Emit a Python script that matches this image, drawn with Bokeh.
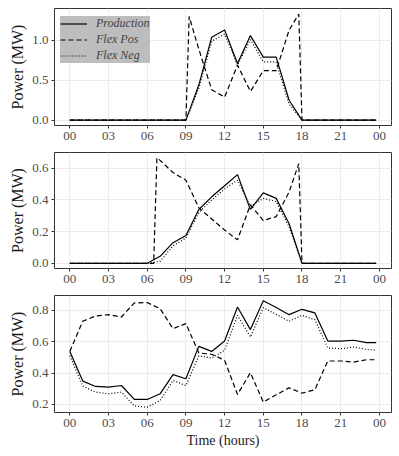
from bokeh.plotting import figure
from bokeh.layouts import column
from bokeh.models import FixedTicker, Range1d
from bokeh.embed import file_html
from bokeh.resources import INLINE

# ---------------- data ----------------
hours = [0, 1, 2, 3, 4, 5, 6, 7, 8, 9, 10, 11, 12, 13, 14, 15, 16, 17, 18, 19, 20, 21, 22, 23, 23.75]

# Panel 1
p1_prod = [0, 0, 0, 0, 0, 0, 0, 0, 0, 0, 0.44, 1.04, 1.13, 0.71, 1.06, 0.79, 0.79, 0.25, 0,
           0, 0, 0, 0, 0, 0]
p1_neg = [0, 0, 0, 0, 0, 0, 0, 0, 0, 0, 0.40, 0.99, 1.08, 0.69, 1.01, 0.73, 0.73, 0.20, 0,
          0, 0, 0, 0, 0, 0]
p1_pos_hours = [0, 1, 2, 3, 4, 5, 6, 7, 8, 9, 9.25, 10, 11, 12, 13, 14, 15, 16, 17, 17.75, 18,
                19, 20, 21, 22, 23, 23.75]
p1_pos = [0, 0, 0, 0, 0, 0, 0, 0, 0, 0, 1.30, 0.89, 0.38, 0.29, 0.69, 0.36, 0.62, 0.62, 1.13, 1.33, 0,
          0, 0, 0, 0, 0, 0]

# Panel 2
p2_prod = [0, 0, 0, 0, 0, 0, 0, 0.044, 0.13, 0.175, 0.34, 0.42, 0.49, 0.56, 0.34, 0.445, 0.41, 0.25, 0,
           0, 0, 0, 0, 0, 0]
p2_neg = [0, 0, 0, 0, 0, 0, 0, 0.012, 0.11, 0.16, 0.32, 0.40, 0.47, 0.525, 0.36, 0.41, 0.39, 0.23, 0,
          0, 0, 0, 0, 0, 0]
p2_pos_hours = [0, 1, 2, 3, 4, 5, 6, 6.5, 6.75, 7, 8, 9, 10, 11, 12, 13, 14, 15, 16, 17, 17.75, 18,
                19, 20, 21, 22, 23, 23.75]
p2_pos = [0, 0, 0, 0, 0, 0, 0, 0, 0.667, 0.65, 0.573, 0.525, 0.35, 0.28, 0.21, 0.148, 0.37, 0.27, 0.295,
          0.45, 0.63, 0, 0, 0, 0, 0, 0, 0]

# Panel 3
p3_prod = [0.538, 0.349, 0.315, 0.311, 0.321, 0.232, 0.232, 0.268, 0.39, 0.364, 0.57, 0.538, 0.604,
           0.821, 0.677, 0.86, 0.817, 0.772, 0.806, 0.783, 0.604, 0.604, 0.609, 0.594, 0.594]
p3_neg = [0.51, 0.317, 0.279, 0.268, 0.279, 0.19, 0.183, 0.225, 0.353, 0.32, 0.51, 0.496, 0.545,
          0.768, 0.63, 0.817, 0.774, 0.73, 0.768, 0.74, 0.56, 0.555, 0.566, 0.551, 0.545]
p3_pos = [0.538, 0.73, 0.764, 0.772, 0.757, 0.847, 0.849, 0.81, 0.683, 0.715, 0.528, 0.52, 0.481,
          0.264, 0.402, 0.215, 0.262, 0.306, 0.272, 0.294, 0.477, 0.477, 0.47, 0.485, 0.485]

x_ticks = [0, 3, 6, 9, 12, 15, 18, 21, 24]
x_tick_labels = ["00", "03", "06", "09", "12", "15", "18", "21", "00"]

labels = ["Production", "Flex Pos", "Flex Neg"]

FONT = "Liberation Serif"


def make_fig(height, yr, yticks, border_top, border_bottom, xlabel=None):
    p = figure(width=399, height=height, x_range=Range1d(-1.19, 24.94), y_range=Range1d(*yr),
               output_backend="svg", toolbar_location=None,
               min_border_left=54, min_border_right=8, min_border_top=border_top,
               min_border_bottom=border_bottom)
    p.outline_line_color = "#333333"
    p.outline_line_width = 1
    p.background_fill_color = "white"
    p.border_fill_color = "white"
    for ax in (p.xaxis[0], p.yaxis[0]):
        ax.axis_line_color = None
        ax.major_tick_line_color = "#333333"
        ax.major_tick_out = 3
        ax.major_tick_in = 0
        ax.minor_tick_line_color = None
        ax.major_label_text_font = FONT
        ax.major_label_text_font_size = "13px"
        ax.major_label_text_color = "#4d4d4d"
        ax.axis_label_text_font = FONT
        ax.axis_label_text_font_style = "normal"
        ax.axis_label_text_color = "#1a1a1a"
        ax.major_label_standoff = 3
        ax.axis_label_standoff = 3
    p.xaxis.ticker = FixedTicker(ticks=x_ticks)
    p.xaxis.major_label_overrides = {t: l for t, l in zip(x_ticks, x_tick_labels)}
    p.yaxis.ticker = FixedTicker(ticks=yticks)
    p.yaxis.axis_label = "Power (MW)"
    p.yaxis.axis_label_text_font_size = "16px"
    if xlabel:
        p.xaxis.axis_label = xlabel
        p.xaxis.axis_label_text_font_size = "14px"
        p.xaxis.axis_label_standoff = 3
    p.xgrid.grid_line_color = "#ebebeb"
    p.ygrid.grid_line_color = "#ebebeb"
    p.xgrid.grid_line_width = 1
    p.ygrid.grid_line_width = 1
    return p


def draw(p, xp, prod, xpos, pos, neg, legend=False):
    kw = dict(line_color="black", line_width=1.2)
    if legend:
        p.line(xp, prod, legend_label=labels[0], **kw)
        p.line(xpos, pos, line_dash="5 3", legend_label=labels[1], **kw)
        p.line(xp, neg, line_dash="1 2", legend_label=labels[2], **kw)
    else:
        p.line(xp, prod, **kw)
        p.line(xpos, pos, line_dash="5 3", **kw)
        p.line(xp, neg, line_dash="1 2", **kw)


f1 = make_fig(150, (-0.067, 1.40), [0, 0.5, 1.0], 8, 25)
draw(f1, hours, p1_prod, p1_pos_hours, p1_pos, p1_neg, legend=True)
f1.yaxis.major_label_overrides = {0: "0.0", 0.5: "0.5", 1.0: "1.0"}
lg = f1.legend[0]
lg.location = (6, 62)
lg.margin = 0
lg.padding = 3
lg.spacing = 1
lg.label_height = 15
lg.glyph_height = 15
lg.glyph_width = 27
lg.label_standoff = 9
lg.label_text_font = FONT
lg.label_text_font_style = "italic"
lg.label_text_font_size = "12px"
lg.background_fill_color = "#bdbdbd"
lg.background_fill_alpha = 1.0
lg.border_line_color = None

f2 = make_fig(143, (-0.033, 0.70), [0, 0.2, 0.4, 0.6], 2, 25)
draw(f2, hours, p2_prod, p2_pos_hours, p2_pos, p2_neg)
f2.yaxis.major_label_overrides = {0: "0.0", 0.2: "0.2", 0.4: "0.4", 0.6: "0.6"}

f3 = make_fig(163, (0.149, 0.894), [0.2, 0.4, 0.6, 0.8], 2, 44, xlabel="Time (hours)")
draw(f3, hours, p3_prod, hours, p3_pos, p3_neg)

layout = column(f1, f2, f3, spacing=0)
open("out.html", "w").write(file_html(layout, INLINE))
